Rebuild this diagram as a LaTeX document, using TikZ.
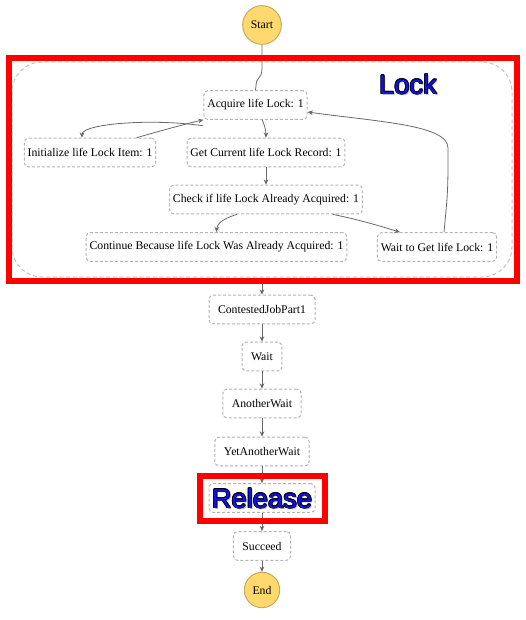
\documentclass[tikz,border=0pt]{standalone}
\usepackage{fontspec}
\setmainfont{Liberation Serif}
\newfontfamily\bannerfont{Liberation Sans}
\usetikzlibrary{arrows.meta}

\definecolor{boxgrey}{RGB}{180,180,180}
\definecolor{groupgrey}{RGB}{195,195,195}
\definecolor{flowgrey}{RGB}{105,105,105}
\definecolor{endfill}{RGB}{255,217,110}
\definecolor{endborder}{RGB}{200,170,95}
\definecolor{bannerblue}{RGB}{18,18,232}

\tikzset{every picture/.style={line width=0.75pt}}
\tikzset{
  state/.style={draw=boxgrey, dash pattern=on 2.25pt off 1.5pt, rounded corners=3pt, fill=white, font=\fontsize{8.8}{11}\selectfont, inner xsep=2.5pt, inner ysep=0pt, minimum height=21.5pt},
  task/.style={state, inner xsep=6.75pt},
  terminal/.style={circle, draw=endborder, fill=endfill, font=\fontsize{8.8}{11}\selectfont, inner sep=0pt},
  flow/.style={draw=flowgrey, line width=0.6pt, -{Stealth[length=4pt,width=3.5pt]}},
  frame/.style={draw=red, line width=4.5pt},
  banner/.style={font=\bannerfont\fontsize{20.5}{24}\selectfont, inner sep=0pt},
}

\begin{document}
\begin{tikzpicture}[x=0.75pt,y=0.75pt,yscale=-1,xscale=1]
\useasboundingbox (0,0) rectangle (525,620);

%Shape: Lock group
\node (lockgroup) [draw=groupgrey, dash pattern=on 3pt off 2pt, rounded corners=22.5pt, minimum width=375pt, minimum height=161.25pt] at (262,169.5) {};

%Node: terminals
\node (start) [terminal, minimum size=29pt] at (262,25) {Start};
\node (finish) [terminal, minimum size=26.5pt] at (262,590) {End};

%Node: lock states
\node (acquire) [state] at (255.5,105) {Acquire life Lock: 1};
\node (init) [state] at (90,152.5) {Initialize life Lock Item: 1};
\node (current) [state] at (266,152.5) {Get Current life Lock Record: 1};
\node (check) [state] at (266,199.5) {Check if life Lock Already Acquired: 1};
\node (continue) [state] at (216.5,247) {Continue Because life Lock Was Already Acquired: 1};
\node (waitlock) [state] at (437,247) {Wait to Get life Lock: 1};

%Node: main chain
\node (contested) [task] at (262,309.5) {ContestedJobPart1};
\node (wait) [task] at (262,356.5) {Wait};
\node (another) [task] at (262,403.5) {AnotherWait};
\node (yetanother) [task] at (262,451.5) {YetAnotherWait};
\node (release) [state, minimum width=79.5pt] at (262,498) {};
\node (succeed) [task] at (262,546) {Succeed};

%Arrow: lock loop
\draw [draw=flowgrey, line width=0.6pt] (start.south) -- (262,68) .. controls (262,80) and (256,76) .. (256,86) -- (acquire.north);
\draw [flow] ([yshift=4.5pt]acquire.south west) .. controls (150,118) and (82,124) .. (init.north -| 82,0);
\draw [flow] ([xshift=35pt]init.north) .. controls (160,131) and (185,124) .. (acquire.south west);
\draw [flow] ([xshift=5pt]acquire.south) .. controls (264,124) and (266,130) .. (current.north);
\draw [flow] (current.south) -- (check.north);
\draw [flow] ([xshift=-21.75pt]check.south) .. controls (222,219) and (217,224) .. ([xshift=0pt]continue.north);
\draw [flow] ([xshift=50pt]check.south) .. controls (360,220) and (380,226) .. ([xshift=-27.75pt]waitlock.north);
\draw [flow] ([xshift=5.25pt]waitlock.north) .. controls (448,190) .. (448,148) .. controls (448,125) and (380,122) .. (acquire.east |- 0,112);

%Arrow: main chain
\draw [flow] (lockgroup.south) -- (contested.north);
\draw [flow] (contested) -- (wait);
\draw [flow] (wait) -- (another);
\draw [flow] (another) -- (yetanother);
\draw [flow] (yetanother) -- (release);
\draw [flow] (release) -- (succeed);
\draw [flow] (succeed) -- (finish);

%Shape: red frames
\draw [frame] (8.5,58) rectangle (517,281);
\draw [frame] (200,475.5) rectangle (324.5,520.5);

%Text: banners with outline
\node (lockshade) [banner, text=black, opacity=0.25] at (409.5,86) {Lock};
\node (releaseshade) [banner, text=black, opacity=0.3] at (263.5,500) {Release};
\foreach \dx/\dy [count=\i] in {-0.6/-0.6,0/-0.7,0.6/-0.6,-0.7/0,0.7/0,-0.6/0.6,0/0.7,0.6/0.6} {
  \node (lockline\i) [banner, text=black] at (408+\dx,84.5+\dy) {Lock};
  \node (releaseline\i) [banner, text=black] at (262+\dx,498.5+\dy) {Release};
}
\node (lock) [banner, text=bannerblue] at (408,84.5) {Lock};
\node (releasetext) [banner, text=bannerblue] at (262,498.5) {Release};

\end{tikzpicture}
\end{document}
